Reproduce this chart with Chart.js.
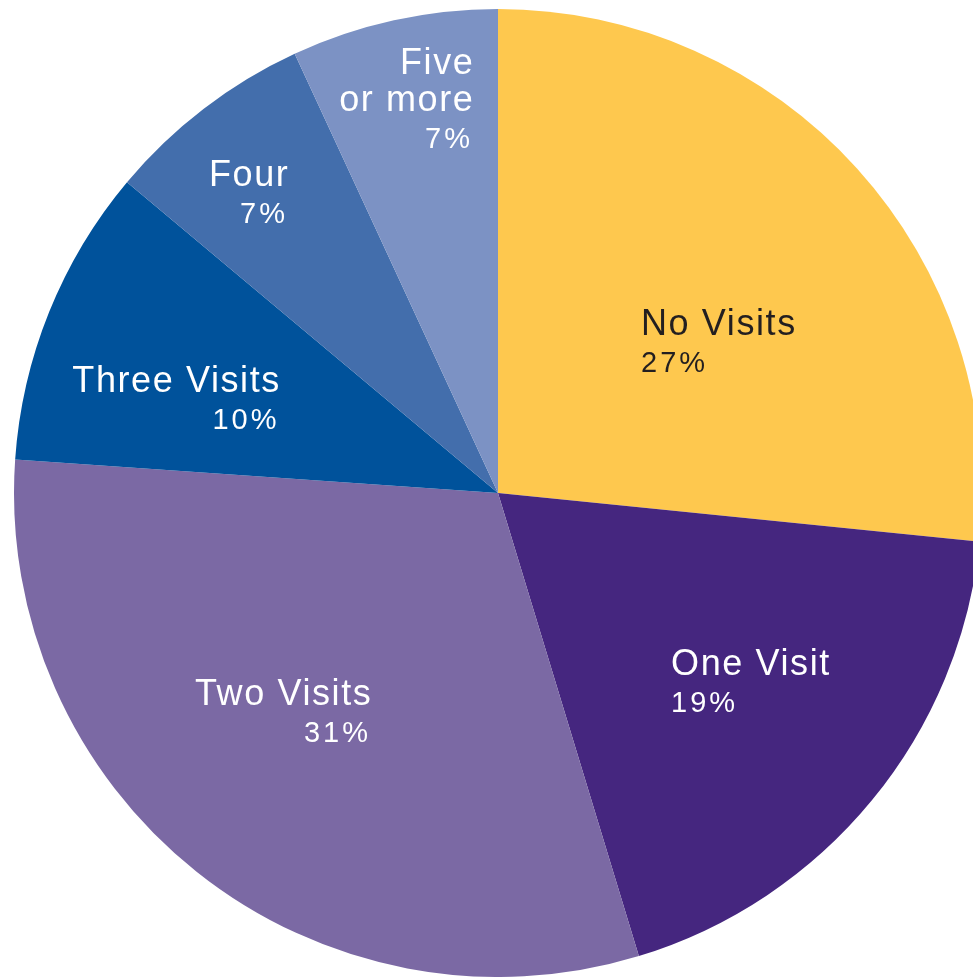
<!DOCTYPE html>
<html>
<head>
<meta charset="utf-8">
<script src="https://cdn.jsdelivr.net/npm/chart.js@4"></script>
<style>
  html, body { margin: 0; padding: 0; background: #ffffff; overflow: hidden; }
  #wrap { position: absolute; left: 0; top: 0; width: 973px; height: 977px; }
</style>
</head>
<body>
<div id="wrap"><canvas id="c"></canvas></div>
<script>
// Data
const categories = ["No Visits", "One Visit", "Two Visits", "Three Visits", "Four", "Five or more"];
const labelLines = [["No Visits"], ["One Visit"], ["Two Visits"], ["Three Visits"], ["Four"], ["Five", "or more"]];
const shares = [26.6, 18.7, 30.8, 10.0, 7.0, 6.9];
const percentLabels = ["27%", "19%", "31%", "10%", "7%", "7%"];
const colors = ["#FEC84E", "#45267F", "#7B69A4", "#00529B", "#436EAC", "#7C92C4"];
const textColors = ["#231F20", "#FFFFFF", "#FFFFFF", "#FFFFFF", "#FFFFFF", "#FFFFFF"];

// label anchors: offset from pie centre as fraction of radius, and alignment
const labelLayout = [
  { dx: 0.2955, dy: -0.326, align: "left" },
  { dx: 0.3575, dy: 0.376, align: "left" },
  { dx: -0.2562, dy: 0.438, align: "right" },
  { dx: -0.4452, dy: -0.209, align: "right" },
  { dx: -0.4277, dy: -0.635, align: "right" },
  { dx: -0.0455, dy: -0.8655, align: "right" }
];

const labelPlugin = {
  id: "sliceLabels",
  afterDatasetsDraw(chart) {
    const ctx = chart.ctx;
    const meta = chart.getDatasetMeta(0);
    const arc0 = meta.data[0];
    const cx = arc0.x, cy = arc0.y, r = arc0.outerRadius;
    ctx.save();
    ctx.textBaseline = "alphabetic";
    meta.data.forEach((arc, i) => {
      const lay = labelLayout[i];
      const x = cx + lay.dx * r;
      let y = cy + lay.dy * r;
      ctx.textAlign = lay.align;
      ctx.fillStyle = textColors[i];
      ctx.font = '36px "Liberation Sans", Arial, sans-serif';
      ctx.letterSpacing = "1.6px";
      const lines = labelLines[i];
      lines.forEach((ln, k) => {
        const off = lay.align === "right" ? -1.6 : 0;
        ctx.fillText(ln, x + off, y + k * 37);
      });
      ctx.font = '29px "Liberation Sans", Arial, sans-serif';
      ctx.letterSpacing = "3px";
      const off2 = lay.align === "right" ? -3 : 0;
      ctx.fillText(percentLabels[i], x + off2, y + lines.length * 37);
    });
    ctx.restore();
  }
};

new Chart(document.getElementById("c"), {
  type: "pie",
  data: {
    labels: categories,
    datasets: [{
      data: shares,
      backgroundColor: colors,
      borderWidth: 0,
      hoverOffset: 0,
      radius: 484,
      clip: false
    }]
  },
  options: {
    responsive: true,
    maintainAspectRatio: false,
    animation: false,
    events: [],
    rotation: 0,
    layout: { padding: { left: 23, top: 9, right: 0, bottom: 0 } },
    plugins: {
      legend: { display: false },
      tooltip: { enabled: false },
      title: { display: false }
    }
  },
  plugins: [labelPlugin]
});
</script>
</body>
</html>
